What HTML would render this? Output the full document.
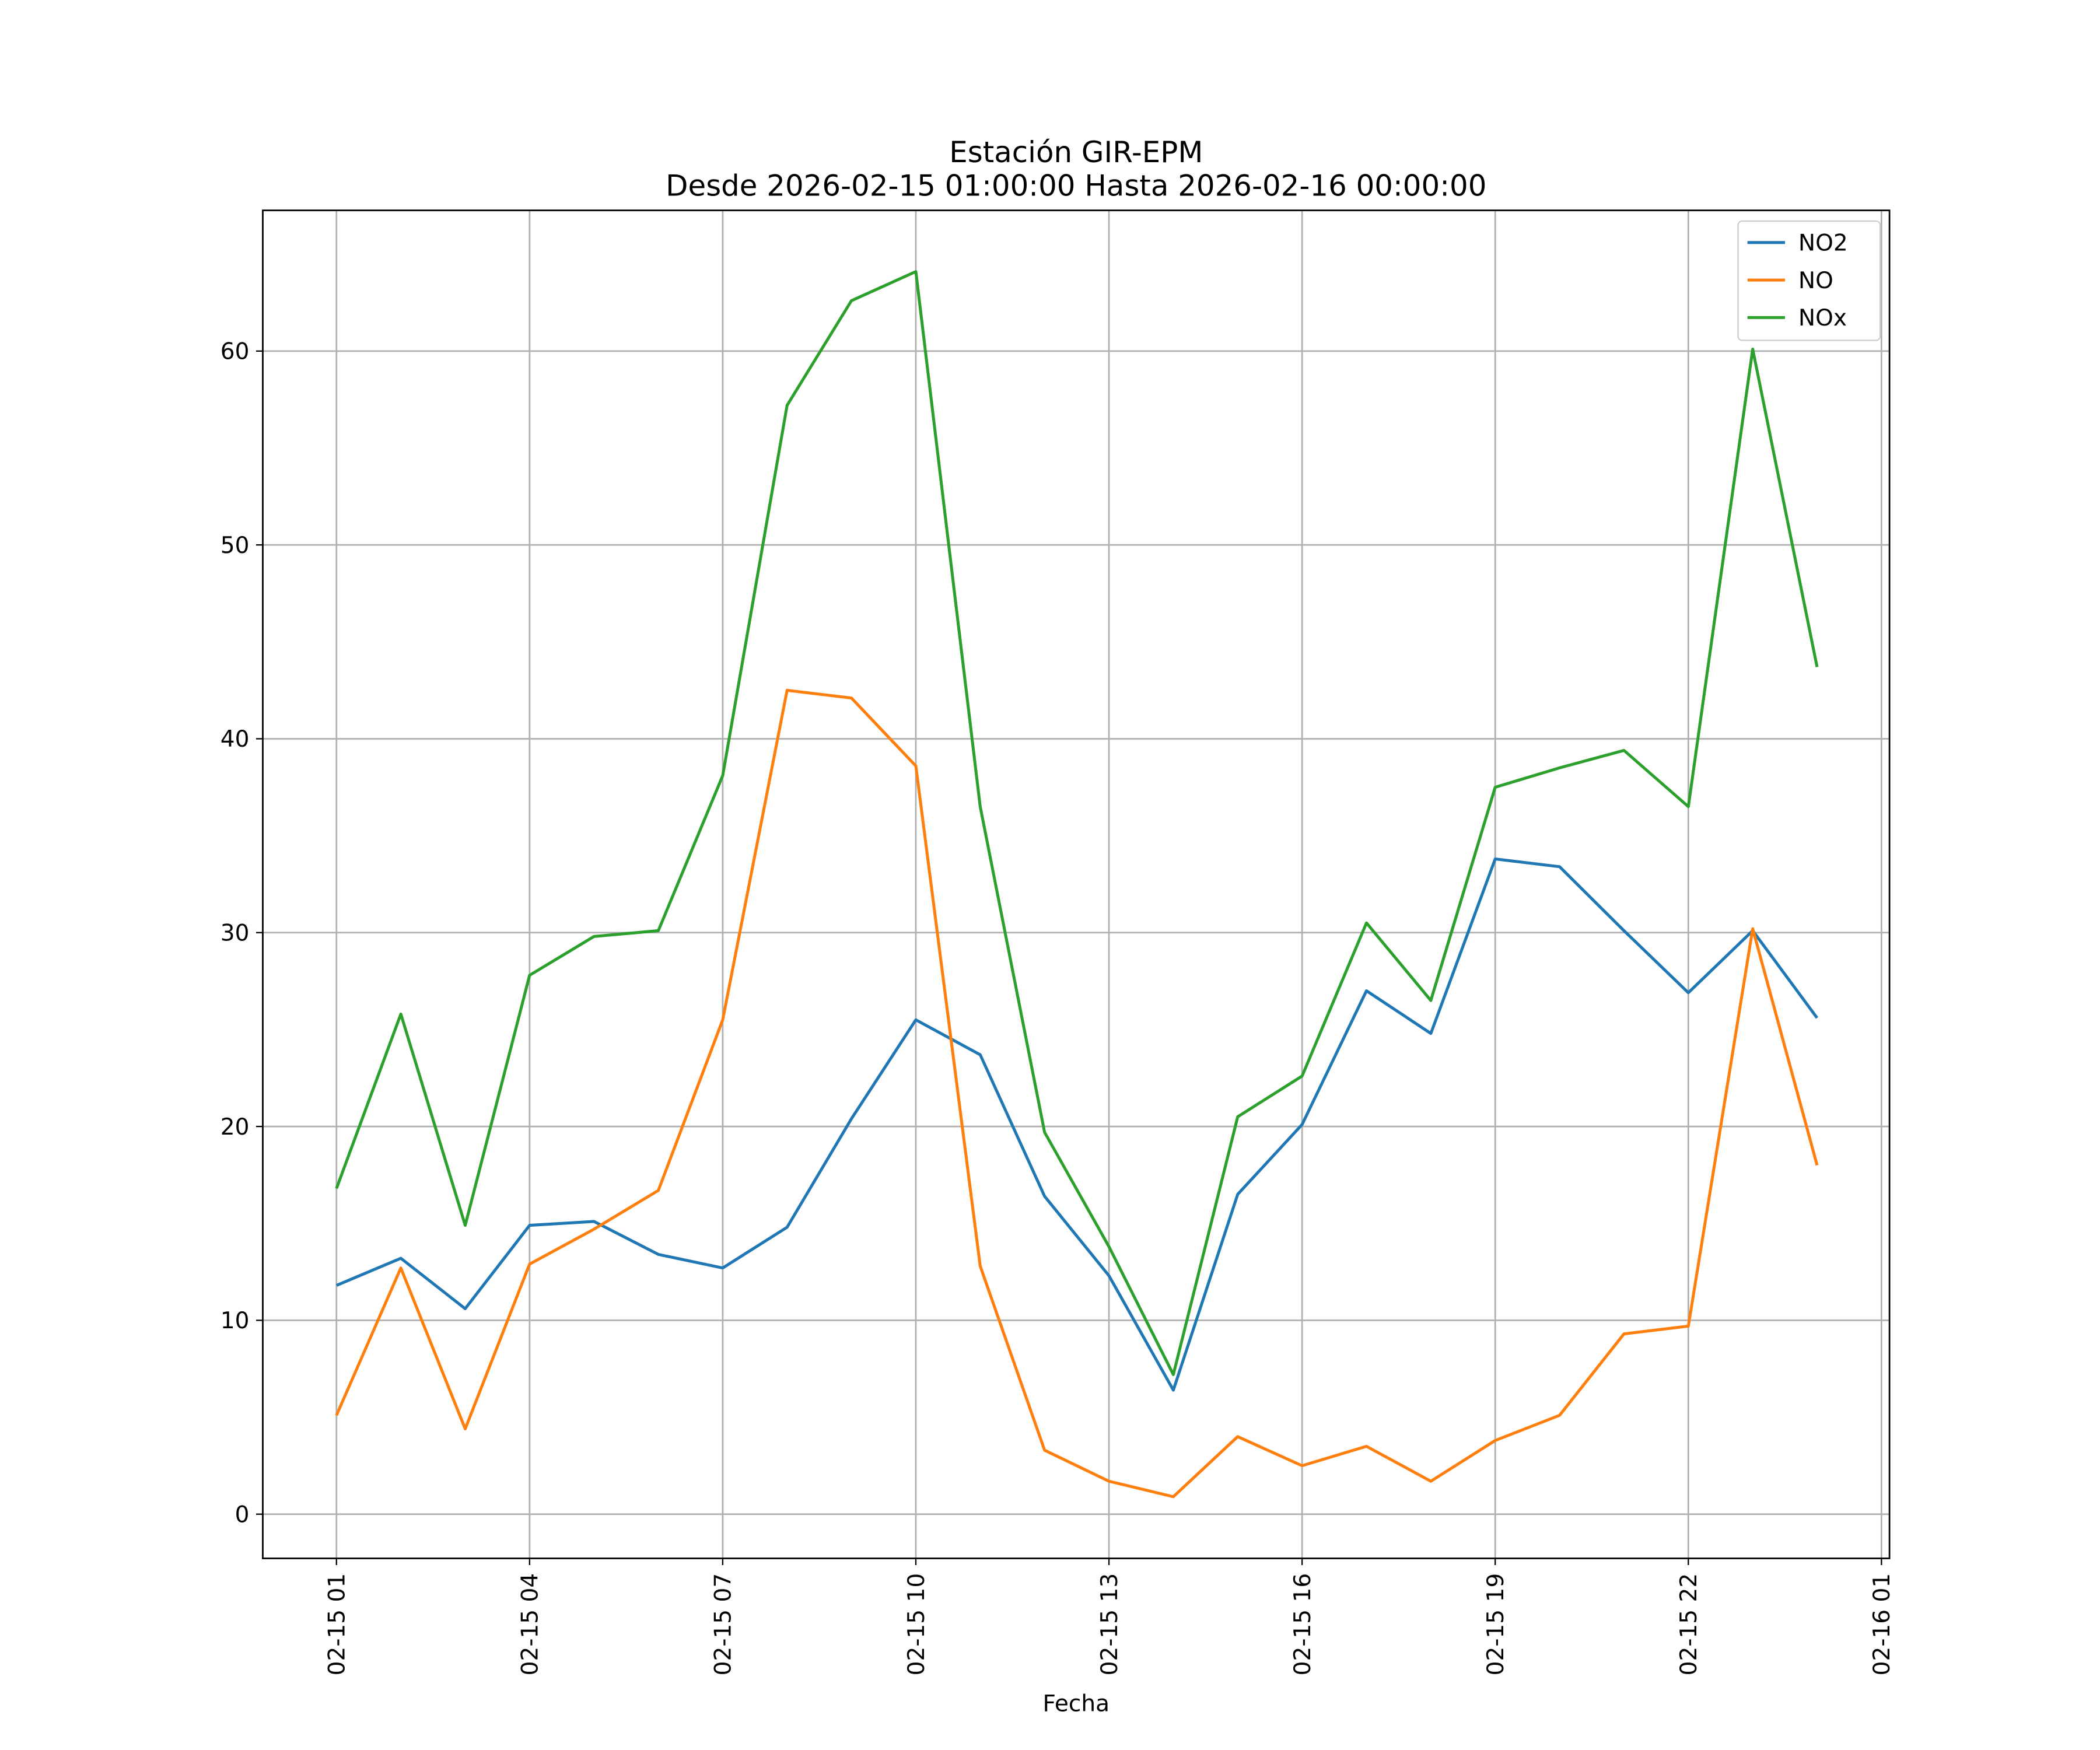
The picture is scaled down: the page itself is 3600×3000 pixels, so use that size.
<!DOCTYPE html>
<html><head><meta charset="utf-8"><style>
html,body{margin:0;padding:0;background:#fff}
svg{display:block}
text{font-family:"DejaVu Sans","Liberation Sans",sans-serif;fill:#000}
</style></head><body>
<svg id="chart" width="3600" height="3000" viewBox="0 0 1567 1306" xmlns="http://www.w3.org/2000/svg">
<rect width="1567" height="1306" fill="#fff"/>
<g id="grid"></g>
<g id="series"></g>
<rect x="196" y="157" width="1214" height="1006" fill="none" stroke="#000" stroke-width="1.2"/>
<g id="ticks"></g>
<text x="803" y="121" font-size="21.7" text-anchor="middle">Estación GIR-EPM</text>
<text x="803" y="146" font-size="21.7" text-anchor="middle">Desde 2026-02-15 01:00:00 Hasta 2026-02-16 00:00:00</text>
<text x="803" y="1277" font-size="17" text-anchor="middle">Fecha</text>
<g id="legend">
<rect x="1297" y="165" width="106" height="89" rx="3" fill="#fff" stroke="#ccc" stroke-width="1"/>
</g>
</svg>
<script>
const hours = [1,2,3,4,5,6,7,8,9,10,11,12,13,14,15,16,17,18,19,20,21,22,23,24];
const no2 = [11.8,13.2,10.6,14.9,15.1,13.4,12.7,14.8,20.4,25.5,23.7,16.4,12.3,6.4,16.5,20.1,27.0,24.8,33.8,33.4,30.1,26.9,30.1,25.6];
const no = [5.1,12.7,4.4,12.9,14.7,16.7,25.5,42.5,42.1,38.6,12.8,3.3,1.7,0.9,4.0,2.5,3.5,1.7,3.8,5.1,9.3,9.7,30.2,18.0];
const nox = [16.8,25.8,14.9,27.8,29.8,30.1,38.1,57.2,62.6,64.1,36.5,19.7,13.8,7.2,20.5,22.6,30.5,26.5,37.5,38.5,39.4,36.5,60.1,43.7];
const yTicks = [0,10,20,30,40,50,60];
const xTickHours = [1,4,7,10,13,16,19,22,25];
const xTickLabels = ["02-15 01","02-15 04","02-15 07","02-15 10","02-15 13","02-15 16","02-15 19","02-15 22","02-16 01"];
const seriesNames = ["NO2","NO","NOx"];
const seriesColors = ["#1f77b4","#ff7f0e","#2ca02c"];

const NS="http://www.w3.org/2000/svg";
function X(h){return 251+(h-1)*(1404-251)/24;}
function Y(v){return 1130-v*(1130-262)/60;}
function mk(tag,attrs,parent){const e=document.createElementNS(NS,tag);for(const k in attrs)e.setAttribute(k,attrs[k]);parent.appendChild(e);return e;}
const grid=document.getElementById('grid'),ticks=document.getElementById('ticks'),ser=document.getElementById('series'),leg=document.getElementById('legend');
yTicks.forEach(v=>{
  const l=mk('line',{x1:196,x2:1410,y1:Y(v),y2:Y(v),stroke:'#b0b0b0','stroke-width':1.2},grid);
  
  
  const t=mk('line',{x1:191,x2:196,y1:Y(v),y2:Y(v),stroke:'#000','stroke-width':1},ticks);
  
  
  const tx=mk('text',{x:186,y:Y(v)+6,'font-size':17,'text-anchor':'end'},ticks);
  tx.textContent=v;
  
  
});
xTickHours.forEach((h,i)=>{
  const l=mk('line',{x1:X(h),x2:X(h),y1:157,y2:1163,stroke:'#b0b0b0','stroke-width':1.2},grid);
  
  
  const t=mk('line',{x1:X(h),x2:X(h),y1:1163,y2:1168,stroke:'#000','stroke-width':1},ticks);
  
  
  const tx=mk('text',{x:0,y:0,'font-size':17,'text-anchor':'end',transform:`translate(${X(h)+6},1174) rotate(-90)`},ticks);
  tx.textContent=xTickLabels[i];
  
  
});
[no2,no,nox].forEach((arr,si)=>{
  const pts=arr.map((v,i)=>X(hours[i]).toFixed(2)+','+Y(v).toFixed(2)).join(' ');
  const p=mk('polyline',{points:pts,fill:'none',stroke:seriesColors[si],'stroke-width':2.2,'stroke-linejoin':'round'},ser);
  
  
  const y=181+si*28;
  const ll=mk('line',{x1:1304,x2:1332,y1:y,y2:y,stroke:seriesColors[si],'stroke-width':2.2},leg);
  
  
  const lt=mk('text',{x:1342,y:y+6,'font-size':17},leg);
  lt.textContent=seriesNames[si];
  
  
});
</script>
</body></html>
